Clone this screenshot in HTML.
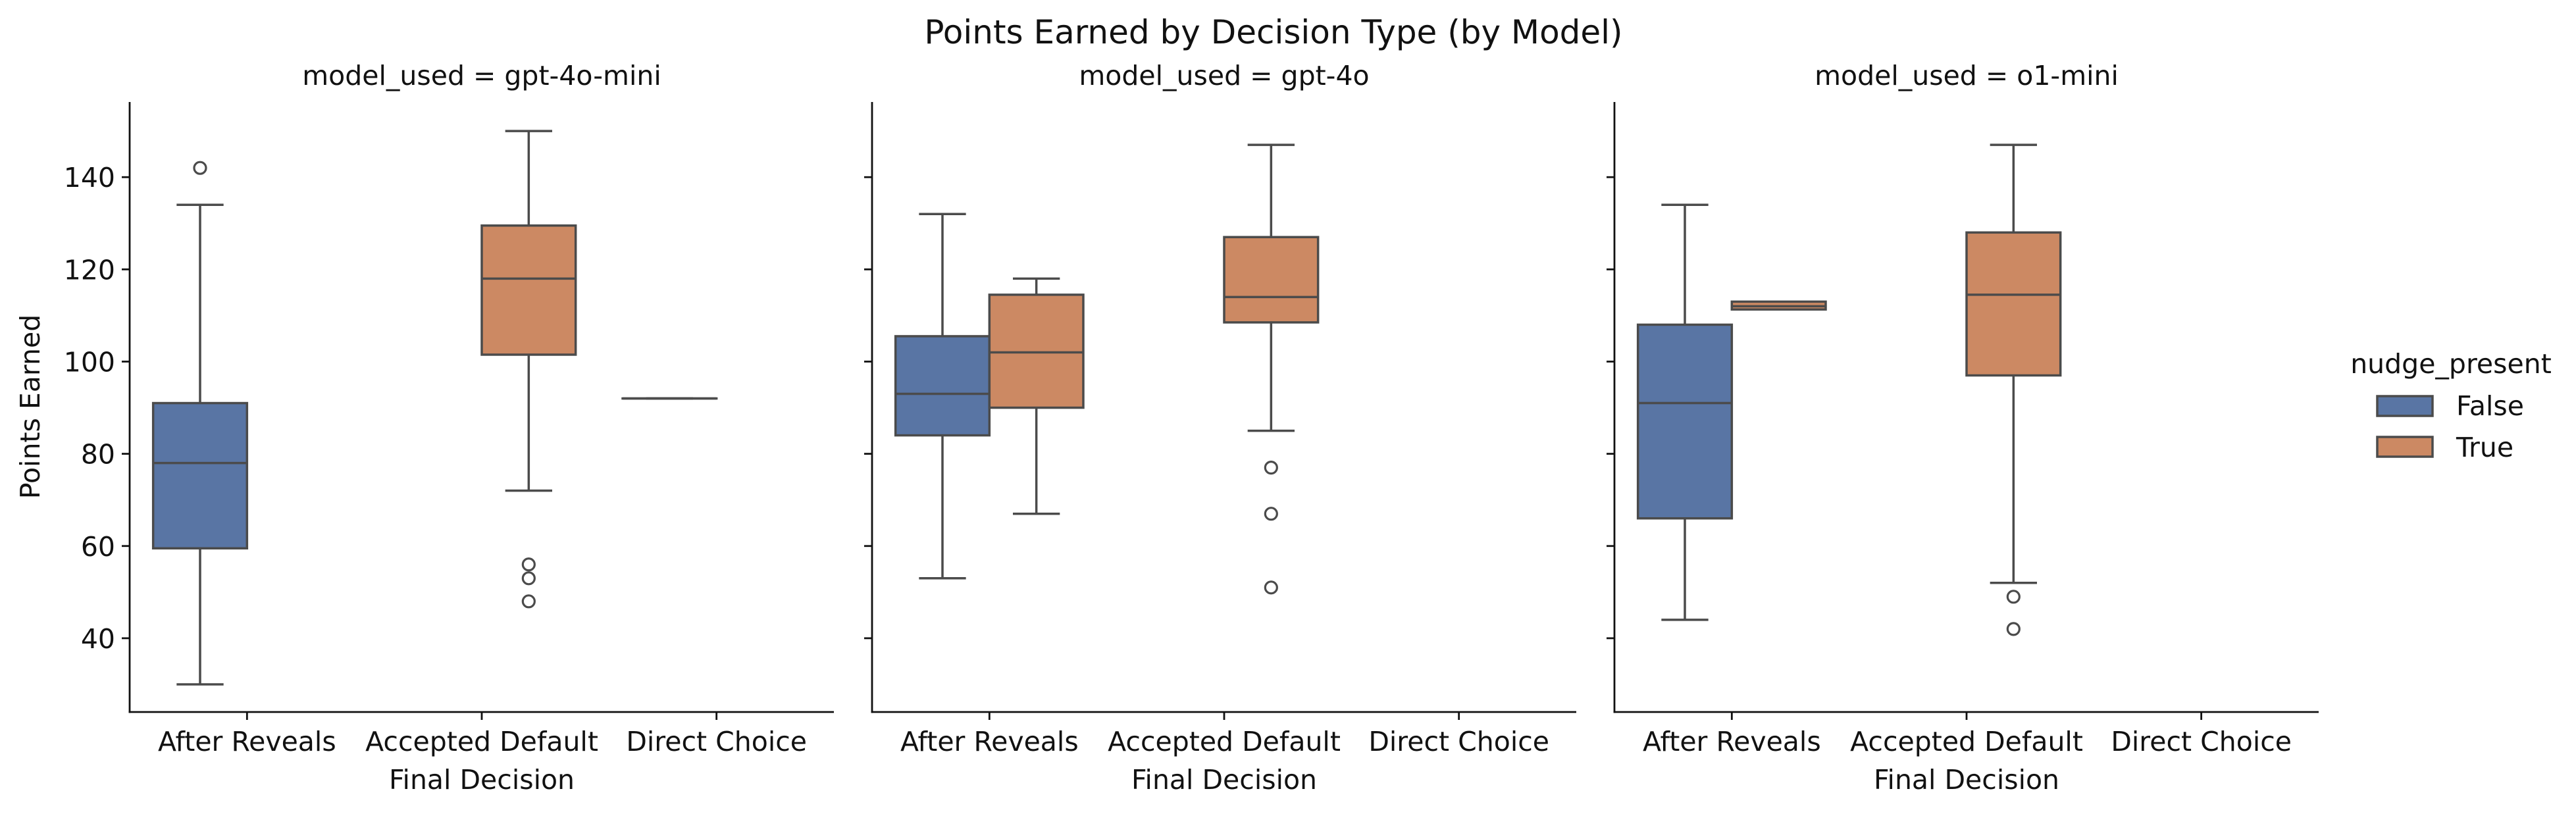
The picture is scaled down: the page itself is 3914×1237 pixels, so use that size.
<!DOCTYPE html>
<html><head><meta charset="utf-8"><style>
html,body{margin:0;padding:0;background:#fff;}
svg{display:block;font-family:"DejaVu Sans","Liberation Sans",sans-serif;}
</style></head><body>
<svg id="chart" width="3914" height="1237" viewBox="0 0 3914 1237" xmlns="http://www.w3.org/2000/svg">
<rect width="3914" height="1237" fill="#fff"/>
<text x="1935" y="66" font-size="50" text-anchor="middle" fill="#111">Points Earned by Decision Type (by Model)</text>
<g id="plots"></g>
<g>
<text x="3724" y="567" font-size="41" text-anchor="middle" fill="#111">nudge_present</text>
<rect x="3612" y="602" width="84" height="30" fill="#5975a4" stroke="#4b4b4b" stroke-width="3.5"/>
<text x="3732" y="631" font-size="41" fill="#111">False</text>
<rect x="3612" y="664" width="84" height="30" fill="#cc8963" stroke="#4b4b4b" stroke-width="3.5"/>
<text x="3732" y="694" font-size="41" fill="#111">True</text>
</g>
</svg>
<script>
const models = ["gpt-4o-mini","gpt-4o","o1-mini"];
const categories = ["After Reveals","Accepted Default","Direct Choice"];
const yTicks = [40,60,80,100,120,140];
// each box: [model index, category index, hue (0=False,1=True), lo, q1, med, q3, hi]
const boxStats = [
  [0,0,0, 30, 59.5, 78, 91, 134],
  [0,1,1, 72, 101.5, 118, 129.5, 150],
  [0,2,0, 92, 92, 92, 92, 92],
  [1,0,0, 53, 84, 93, 105.5, 132],
  [1,0,1, 67, 90, 102, 114.5, 118],
  [1,1,1, 85, 108.5, 114, 127, 147],
  [2,0,0, 44, 66, 91, 108, 134],
  [2,0,1, 111.8, 111.3, 112, 113, 112.3],
  [2,1,1, 52, 97, 114.5, 128, 147]
];
// outliers: [model index, category index, hue, value]
const outliers = [
  [0,0,0,142],[0,1,1,56],[0,1,1,53],[0,1,1,48],
  [1,1,1,77],[1,1,1,67],[1,1,1,51],
  [2,1,1,49],[2,1,1,42]
];
const panelLeft = [197,1325,2453];
const panelW = 1070, yTop = 155, yBot = 1082, vMin = 24.0, vMax = 156.3;
const colors = ["#5975a4","#cc8963"];
const NS = "http://www.w3.org/2000/svg";
const root = document.getElementById('plots');
function yS(v){ return yBot - (v - vMin) / (vMax - vMin) * (yBot - yTop); }
function xC(p, c){ return panelLeft[p] + (c + 0.5) * panelW / 3; }
function mk(tag, attrs, parent){
  const e = document.createElementNS(NS, tag);
  for (const k in attrs) e.setAttribute(k, attrs[k]);
  (parent || root).appendChild(e);
  return e;
}
const catW = panelW / 3, boxW = 0.4 * catW;
function boxX(p, c, h){ return h === 0 ? xC(p, c) - boxW : xC(p, c); }
models.forEach((m, p) => {
  const g = mk('g', {});
  
  
  const L = panelLeft[p];
  const ya = mk('line', {x1:L, y1:yTop, x2:L, y2:yBot+1.4, stroke:'#111', 'stroke-width':2.8}, g);
  
  
  const xa = mk('line', {x1:L-1.4, y1:yBot, x2:L+panelW, y2:yBot, stroke:'#111', 'stroke-width':2.8}, g);
  
  
  const ft = mk('text', {x:L+panelW/2, y:129, 'font-size':41, 'text-anchor':'middle', fill:'#111'}, g);
  ft.textContent = 'model_used = ' + m;
  
  
  yTicks.forEach(t => {
    const tk = mk('line', {x1:L-12, y1:yS(t), x2:L, y2:yS(t), stroke:'#111', 'stroke-width':2.8}, g);
    
    
    if (p === 0) {
      const tl = mk('text', {x:L-22, y:yS(t)+15, 'font-size':41, 'text-anchor':'end', fill:'#111'}, g);
      tl.textContent = t;
      
      
    }
  });
  categories.forEach((c, ci) => {
    const tk = mk('line', {x1:xC(p,ci), y1:yBot, x2:xC(p,ci), y2:yBot+12, stroke:'#111', 'stroke-width':2.8}, g);
    
    
    const tl = mk('text', {x:xC(p,ci), y:1141, 'font-size':41, 'text-anchor':'middle', fill:'#111'}, g);
    tl.textContent = c;
    
    
  });
  const xl = mk('text', {x:L+panelW/2, y:1199, 'font-size':41, 'text-anchor':'middle', fill:'#111'}, g);
  xl.textContent = 'Final Decision';
  
  
});
const yl = mk('text', {x:0, y:0, 'font-size':41, 'text-anchor':'middle', fill:'#111', transform:'translate(60,618) rotate(-90)'});
yl.textContent = 'Points Earned';


const ec = '#4b4b4b', lw = 3.5;
boxStats.forEach(b => {
  const [p, c, h, lo, q1, med, q3, hi] = b;
  const g = mk('g', {});
  
  
  const x0 = boxX(p, c, h), cx = x0 + boxW / 2, cap = boxW / 4;
  mk('line', {x1:cx, y1:yS(hi), x2:cx, y2:yS(Math.max(q3,q1)), stroke:ec, 'stroke-width':lw}, g);
  mk('line', {x1:cx, y1:yS(lo), x2:cx, y2:yS(Math.min(q1,q3)), stroke:ec, 'stroke-width':lw}, g);
  mk('line', {x1:cx-cap, y1:yS(hi), x2:cx+cap, y2:yS(hi), stroke:ec, 'stroke-width':lw}, g);
  mk('line', {x1:cx-cap, y1:yS(lo), x2:cx+cap, y2:yS(lo), stroke:ec, 'stroke-width':lw}, g);
  const top = yS(Math.max(q1,q3)), bot = yS(Math.min(q1,q3));
  mk('rect', {x:x0, y:top, width:boxW, height:Math.max(bot-top,0.01), fill:colors[h], stroke:ec, 'stroke-width':lw}, g);
  mk('line', {x1:x0, y1:yS(med), x2:x0+boxW, y2:yS(med), stroke:ec, 'stroke-width':lw}, g);
});
outliers.forEach(o => {
  const [p, c, h, v] = o;
  const cx = boxX(p, c, h) + boxW / 2;
  const ci = mk('circle', {cx:cx, cy:yS(v), r:9, fill:'none', stroke:ec, 'stroke-width':3.2});
  
  
});
</script>
</body></html>
